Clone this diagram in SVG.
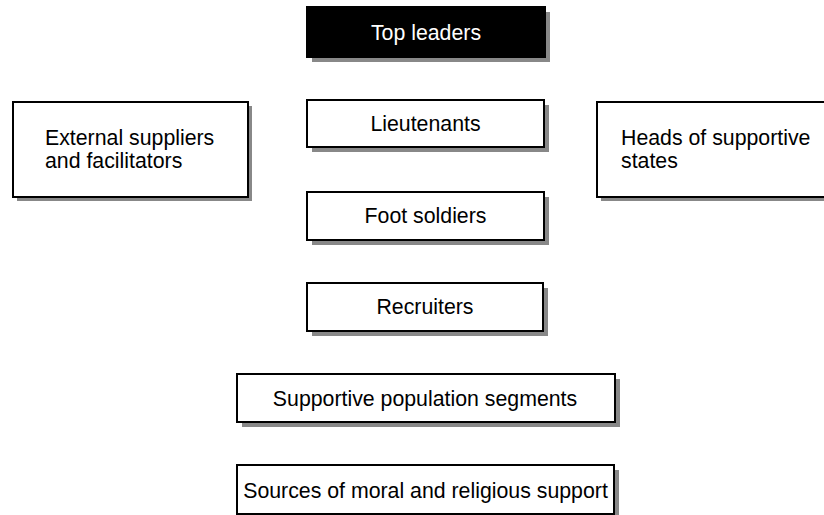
<svg xmlns="http://www.w3.org/2000/svg" width="824" height="515" viewBox="0 0 824 515">
<style>
.box{fill:#fff;stroke:#000;stroke-width:2}
.dark{fill:#000;stroke:#000;stroke-width:2}
.sh{fill:#888}
.t{font-family:"Liberation Sans",Arial,sans-serif;font-size:21.3px;fill:#000}
.c{text-anchor:middle}
.w{fill:#fff}
</style>
<rect width="824" height="515" fill="#fff"/>
<g id="connectors"></g>
<g id="top-leaders">
<rect class="sh" x="312" y="12" width="238" height="50"/>
<rect class="dark" x="307" y="7" width="238" height="50"/>
<text class="t c w" x="426" y="40">Top leaders</text>
</g>
<g id="external">
<rect class="sh" x="17" y="106" width="235" height="95"/>
<rect class="box" x="13" y="102" width="235" height="95"/>
<text class="t" x="45" y="145">External suppliers</text>
<text class="t" x="45" y="168">and facilitators</text>
</g>
<g id="heads">
<rect class="sh" x="601" y="106" width="240" height="95"/>
<rect class="box" x="597" y="102" width="240" height="95"/>
<text class="t" x="621" y="145">Heads of supportive</text>
<text class="t" x="621" y="168">states</text>
</g>
<g id="lieutenants">
<rect class="sh" x="312" y="105" width="237" height="47"/>
<rect class="box" x="307" y="100" width="237" height="47"/>
<text class="t c" x="425.5" y="131">Lieutenants</text>
</g>
<g id="foot-soldiers">
<rect class="sh" x="312" y="197" width="237" height="48"/>
<rect class="box" x="307" y="192" width="237" height="48"/>
<text class="t c" x="425.5" y="223">Foot soldiers</text>
</g>
<g id="recruiters">
<rect class="sh" x="312" y="288" width="236" height="48"/>
<rect class="box" x="307" y="283" width="236" height="48"/>
<text class="t c" x="425" y="314">Recruiters</text>
</g>
<g id="supportive">
<rect class="sh" x="242" y="379" width="378" height="48"/>
<rect class="box" x="237" y="374" width="378" height="48"/>
<text class="t c" x="425" y="406">Supportive population segments</text>
</g>
<g id="sources">
<rect class="sh" x="242" y="470" width="377" height="50"/>
<rect class="box" x="237" y="465" width="377" height="49"/>
<text class="t c" x="425.5" y="498">Sources of moral and religious support</text>
</g>
</svg>
